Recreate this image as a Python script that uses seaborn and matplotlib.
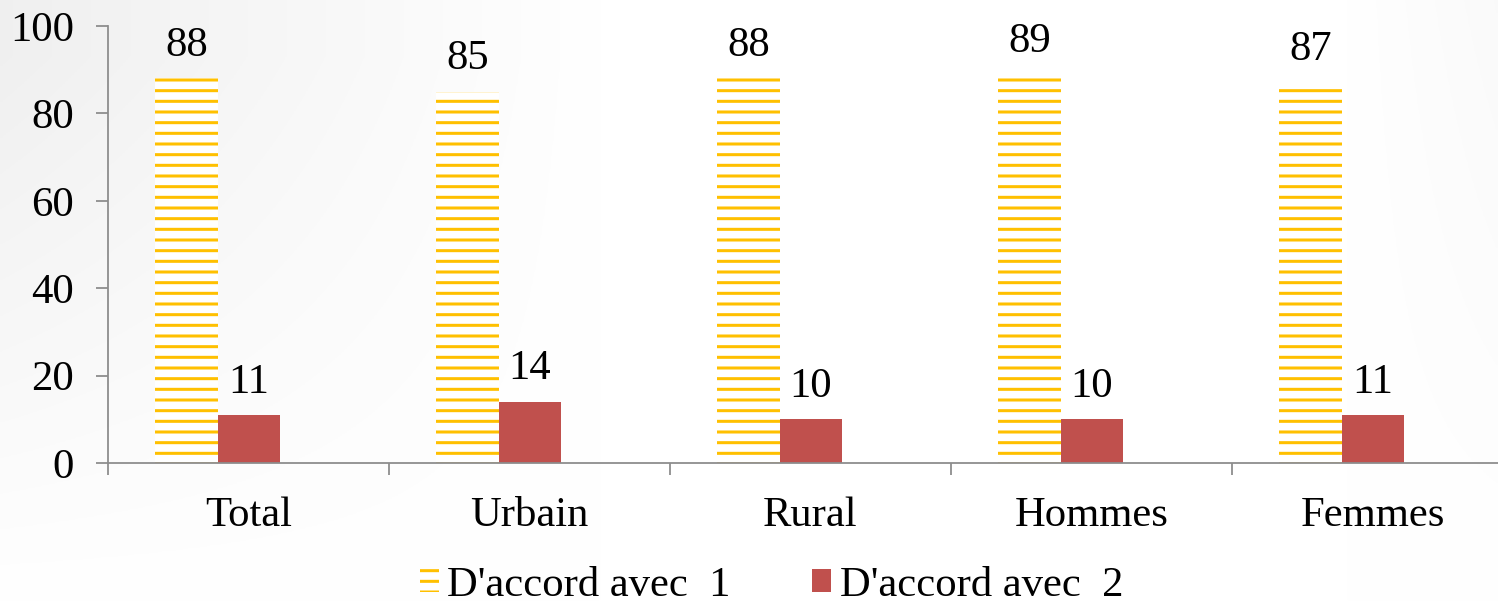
import numpy as np
import pandas as pd
import matplotlib
matplotlib.use("Agg")
import matplotlib.pyplot as plt
import seaborn as sns
from matplotlib.patches import Patch

categories = ["Total", "Urbain", "Rural", "Hommes", "Femmes"]
series_names = ["D'accord avec  1", "D'accord avec  2"]
values_1 = [88, 85, 88, 89, 87]
values_2 = [11, 14, 10, 10, 11]
y_ticks = [0, 20, 40, 60, 80, 100]

DPI = 128
W, H = 1498, 602
sns.set_theme(style="white")
plt.rcParams["font.family"] = ["Liberation Serif", "DejaVu Serif"]
plt.rcParams["hatch.linewidth"] = 1.7
plt.rcParams["text.color"] = "black"
plt.rcParams["xtick.color"] = "black"
plt.rcParams["ytick.color"] = "black"

df = pd.DataFrame({
    "cat": categories * 2,
    "val": values_1 + values_2,
    "series": [series_names[0]] * len(categories) + [series_names[1]] * len(categories),
})

fig = plt.figure(figsize=(W / DPI, H / DPI), dpi=DPI)

# subtle background gradient (gray at upper-left, white elsewhere)
bg = fig.add_axes([0, 0, 1, 1], zorder=-10)
yy, xx = np.mgrid[0:1:200j, 0:1:500j]
g = 1.0 - 0.06 * np.clip(1 - xx / 0.4, 0, 1) * np.clip(yy * 1.1, 0, 1) \
    - 0.02 * np.clip((xx - 0.9) / 0.1, 0, 1) * yy
bg.imshow(np.dstack([g, g, g]), aspect="auto", extent=[0, 1, 0, 1], origin="lower",
          vmin=0, vmax=1)
bg.axis("off")

left_px, right_px = 108, 1498
top_px, bot_px = 26, 463
ax = fig.add_axes([left_px / W, (H - bot_px) / H, (right_px - left_px) / W, (bot_px - top_px) / H])
ax.set_facecolor("none")

gold = "#FFC000"
red = "#C0504D"
sns.barplot(data=df, x="cat", y="val", hue="series", order=categories,
            hue_order=series_names, palette=[gold, red], width=0.444, gap=0,
            ax=ax, legend=False, saturation=1)

fs = 24
for bar in ax.containers[0]:
    bar.set_facecolor("white")
    bar.set_edgecolor(gold)
    bar.set_hatch("--")
    bar.set_linewidth(0)
for bar in ax.containers[1]:
    bar.set_edgecolor(red)
    bar.set_linewidth(0)

for c in ax.containers:
    ax.bar_label(c, fmt="%d", padding=7.5, fontsize=fs, color="black")

off = 0.11
ax.set_yticks(y_ticks)
ax.set_yticklabels([str(t) for t in y_ticks], fontsize=fs)
ax.set_xticks([i + off for i in range(len(categories))])
ax.set_xticklabels(categories, fontsize=fs)
ax.set_xticks([i + off - 0.5 for i in range(len(categories) + 1)], minor=True)
ax.set_xlim(-0.5 + off, 4.5 + off - 15 / 281)
ax.set_ylim(0, 100)
ax.tick_params(axis="x", which="major", length=0, pad=19)
ax.tick_params(axis="x", which="minor", length=7, width=1, color="#8c8c8c", direction="out", bottom=True)
ax.tick_params(axis="y", length=7, width=1, color="#8c8c8c", direction="out", left=True, pad=12)
ax.set_xlabel("")
ax.set_ylabel("")
for s in ["top", "right"]:
    ax.spines[s].set_visible(False)
for s in ["left", "bottom"]:
    ax.spines[s].set_color("#8c8c8c")
    ax.spines[s].set_linewidth(1)

handles = [Patch(facecolor="white", edgecolor=gold, hatch="--", linewidth=0, label=series_names[0]),
           Patch(facecolor=red, edgecolor=red, linewidth=0, label=series_names[1])]
fig.legend(handles=handles, loc="lower center", bbox_to_anchor=(0.515, -0.068), ncol=2,
           frameon=False, fontsize=fs, handlelength=0.45, handleheight=0.45,
           handletextpad=0.2, columnspacing=1.9)

fig.savefig("out.png", dpi=DPI)
